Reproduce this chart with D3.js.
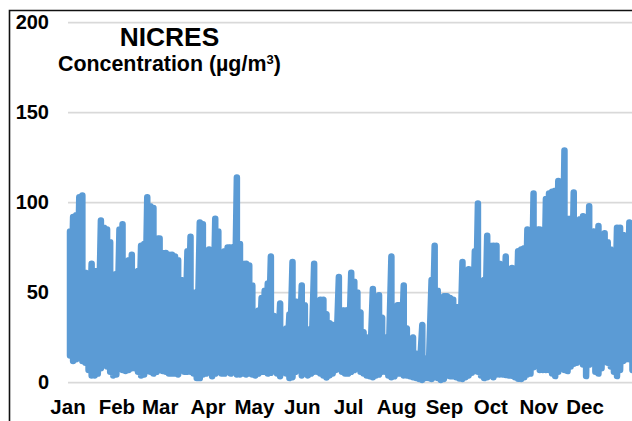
<!DOCTYPE html>
<html><head><meta charset="utf-8">
<script src="https://cdn.jsdelivr.net/npm/d3@7"></script>
<style>html,body{margin:0;padding:0;background:#fff}svg{display:block}text{font-family:"Liberation Sans",Arial,sans-serif;font-weight:bold;fill:#000}</style>
</head><body><div id="c"></div>
<script>
const title = "NICRES";
const unitLabel = "Concentration (µg/m";
const yTicks = [0, 50, 100, 150, 200];
const months = ["Jan","Feb","Mar","Apr","May","Jun","Jul","Aug","Sep","Oct","Nov","Dec"];
const monthStarts = [0,31,59,90,120,151,181,212,243,273,304,334];
const stepDays = 2;
// upper and lower concentration reached in each 2-day window
const highs = [84,92,93,103,104,61,60,66,62,62,90,86,85,78,60,60,85,88,66,68,71,58,62,76,77,103,98,97,80,80,72,72,71,71,70,68,57,56,73,81,50,50,89,88,72,74,68,91,84,72,73,75,75,75,114,77,66,66,65,54,33,40,47,51,55,70,37,28,44,23,30,38,67,45,38,54,43,29,30,66,35,46,46,38,33,32,30,58.6,40,40,40,61,56,50,39,28,25,25,52,30,48.5,36,25,21,70,30,43,43,54,30,19,25,16,11,32,10,14,57,76,51,36,48,48,47,46,42,31,67,50,63,50,73,99.5,49,57,81.6,76,76,76,66,58,70,50,63.6,50,73,74,74.7,85,60,105,85,85,70,102,105,106,106.6,112,100,129,91,91,105.6,83,90.8,92.4,92,98,84,84,87,80,83,78,74,69,86,86,82,80,89,82];
const lows = [15,12,13,19,12,11,7,4,4,5,8,11,9,6,4,4.5,9,7,6.5,7,8,8,6,4,4.5,6.5,6,5,6,7,6.5,6,5,5,5,4.5,7,6,6,6,5,2.5,2.5,4.5,5,6,3.5,5,6,5,5,6,5,6,4.5,4.5,5,4.5,5,4.5,4,5,6,6,5,5.5,7,5,3.5,6,5,2.5,3,6,7,4,5,4,5,6,6,5,4,2.8,4,5,7,7.5,6,5,5,6,7,8,6,5,4,3.5,3,4,4.5,6,6,4,3,3.5,5,5,4,4,3.5,3,2.5,2,1.5,2.5,2.5,2,3,2.5,1.5,2,4,3.5,3.5,3,2.3,2,3,4,5.5,6.5,6,4,2.5,3,6,3,4.5,4.5,4.5,4.2,4,3.8,3,2.2,2,3,4.5,5,8.5,10,7,7,7,7,5,3.6,6,8,7,6.4,9,10.5,11,12,10,3.6,10,11,6,5,8,12,11,9,6,3.6,7,12,13,13,7];

const W = 632, H = 421;
const svg = d3.select("#c").append("svg").attr("width", W).attr("height", H);
const x = d3.scaleLinear().domain([0, 365]).range([70, 634]);
const y = d3.scaleLinear().domain([0, 200]).range([382.6, 22.6]);

// frame
svg.append("path").attr("d", `M9.5,${H}V10.5H${W}`).attr("fill","none").attr("stroke","#111").attr("stroke-width",1.6);

// gridlines
svg.append("g").selectAll("line").data(yTicks).join("line")
  .attr("x1", 68).attr("x2", W).attr("y1", d => y(d)).attr("y2", d => y(d))
  .attr("stroke", "#d9d9d9").attr("stroke-width", 1.8);

// y labels
svg.append("g").selectAll("text").data(yTicks).join("text")
  .attr("x", 49).attr("y", d => y(d) + 6.8).attr("text-anchor", "end")
  .attr("font-size", 20).text(d => d);

// month labels
svg.append("g").selectAll("text").data(months).join("text")
  .attr("x", (d, i) => x(monthStarts[i]) - (i === 0 ? 2 : 1)).attr("y", 414)
  .attr("text-anchor", "middle").attr("font-size", 20.5).text(d => d);

// series: one concentration trace swinging between highs and lows
const pts = [];
highs.forEach((h, i) => { pts.push([i * stepDays, h]); pts.push([i * stepDays, lows[i]]); });
svg.append("path")
  .attr("d", d3.line().x(d => x(d[0])).y(d => y(d[1]))(pts))
  .attr("fill", "none").attr("stroke", "#5b9bd5").attr("stroke-width", 6.5)
  .attr("stroke-linejoin", "round").attr("stroke-linecap", "round");

// titles
svg.append("text").attr("x", 169.5).attr("y", 45.5).attr("text-anchor", "middle").attr("font-size", 26.3).text(title);
const sub = svg.append("text").attr("x", 58).attr("y", 70.5).attr("font-size", 21.4).text(unitLabel);
sub.append("tspan").attr("font-size", 13).attr("dy", -7).text("3");
sub.append("tspan").attr("dy", 7).text(")");
</script></body></html>
